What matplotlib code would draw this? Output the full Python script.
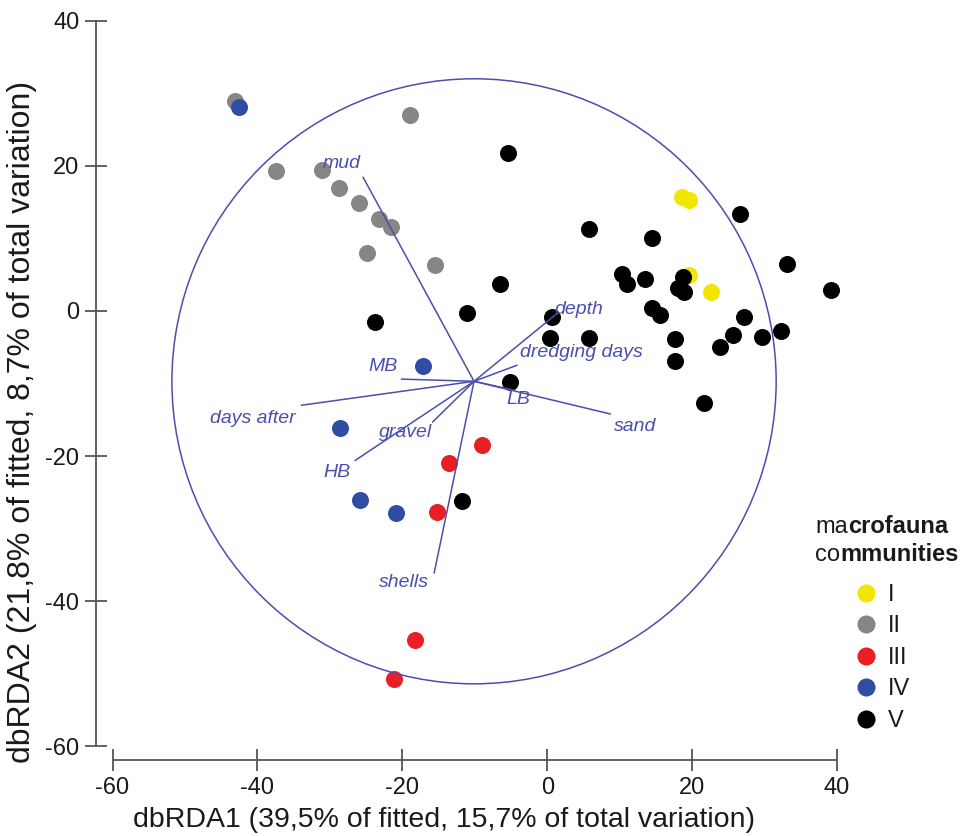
import matplotlib
matplotlib.use("Agg")
import matplotlib.pyplot as plt
from matplotlib.lines import Line2D
from matplotlib.patches import Circle

plt.rcParams['font.family'] = ['Liberation Sans', 'DejaVu Sans']
plt.rcParams['axes.unicode_minus'] = False

# sample scores (dbRDA1, dbRDA2) per macrofauna community
com_I_x = [18.6, 19.6, 19.6, 22.6]
com_I_y = [15.7, 15.3, 5.0, 2.6]

com_II_x = [-43.1, -37.4, -31.1, -28.8, -26.0, -23.2, -21.5, -24.9, -15.5, -18.9]
com_II_y = [29.0, 19.3, 19.4, 16.9, 14.9, 12.7, 11.6, 8.0, 6.3, 27.0]

com_III_x = [-9.0, -13.5, -15.2, -18.3, -21.1]
com_III_y = [-18.5, -21.0, -27.7, -45.3, -50.7]

com_IV_x = [-42.6, -17.1, -28.6, -25.8, -20.9]
com_IV_y = [28.1, -7.6, -16.2, -26.1, -27.9]

com_V_x = [-5.4, 26.6, 5.8, 14.5, 33.1, 39.1, 10.3, 11.0, 13.5, 18.8,
           18.1, 18.9, 14.5, 15.6, 5.7, 17.6, 17.6, 27.2, 25.6, 23.8,
           29.6, 32.2, 21.6, -6.5, -23.8, -11.1, 0.6, 0.4, -5.2, -11.8]
com_V_y = [21.8, 13.4, 11.3, 10.0, 6.5, 2.9, 5.1, 3.7, 4.4, 4.7,
           3.2, 2.6, 0.4, -0.6, -3.7, -3.9, -6.9, -0.8, -3.3, -5.0,
           -3.6, -2.8, -12.7, 3.7, -1.5, -0.3, -0.9, -3.7, -9.8, -26.2]

# environmental vectors (end points) and label positions
origin = (-10.1, -9.7)
circle_r = 41.7
vec_names = ['mud', 'depth', 'dredging days', 'MB', 'LB', 'sand',
             'days after', 'gravel', 'HB', 'shells']
vec_x = [-25.4, 1.3, -4.2, -20.1, -4.7, 8.7, -33.9, -15.8, -26.5, -15.6]
vec_y = [18.4, -0.4, -7.5, -9.4, -10.9, -14.2, -13.0, -15.3, -20.6, -36.1]
lab_x = [-28.4, 4.3, 4.7, -22.7, -4.0, 12.1, -40.6, -19.6, -29.0, -19.8]
lab_y = [20.3, 0.2, -5.7, -7.6, -12.2, -15.9, -14.8, -16.8, -22.3, -37.5]

groups = ['I', 'II', 'III', 'IV', 'V']
colors = {'I': '#f2e600', 'II': '#868686', 'III': '#ea1f25',
          'IV': '#2f4ea3', 'V': '#000000'}
vcol = '#4a4fae'
tcol = '#1a1a1a'

fig = plt.figure(figsize=(9.69, 8.36), dpi=100)
ax = fig.add_axes([0.1161, 0.1074, 0.7477, 0.8678])

ms = 150
ax.scatter(com_II_x, com_II_y, s=ms, c=colors['II'], lw=0, zorder=2, clip_on=False)
ax.scatter(com_I_x, com_I_y, s=ms, c=colors['I'], lw=0, zorder=2, clip_on=False)
ax.scatter(com_V_x, com_V_y, s=ms, c=colors['V'], lw=0, zorder=3, clip_on=False)
ax.scatter(com_III_x, com_III_y, s=ms, c=colors['III'], lw=0, zorder=3, clip_on=False)
ax.scatter(com_IV_x, com_IV_y, s=ms, c=colors['IV'], lw=0, zorder=3, clip_on=False)

ax.add_patch(Circle(origin, circle_r, fill=False, ec=vcol, lw=1.1, zorder=4))
for name, vx, vy, lx, ly in zip(vec_names, vec_x, vec_y, lab_x, lab_y):
    ax.plot([origin[0], vx], [origin[1], vy], color=vcol, lw=1.1, zorder=4)
    ax.text(lx, ly, name, color=vcol, style='italic', fontsize=14,
            ha='center', va='center', zorder=5)

ax.set_xlim(-60, 40)
ax.set_ylim(-60, 40)
ax.set_xticks([-60, -40, -20, 0, 20, 40])
ax.set_yticks([-60, -40, -20, 0, 20, 40])

for s in ['top', 'right']:
    ax.spines[s].set_visible(False)
ax.spines['left'].set_position(('outward', 11.9))
ax.spines['bottom'].set_position(('outward', 9.9))
for s in ['left', 'bottom']:
    ax.spines[s].set_color('#555555')
    ax.spines[s].set_linewidth(1.3)
ax.tick_params(direction='inout', length=16, width=1.3, color='#555555',
               labelsize=17, labelcolor=tcol, pad=4)

fig.text(444 / 969, 1 - 820 / 836,
         'dbRDA1 (39,5% of fitted, 15,7% of total variation)',
         ha='center', va='center', fontsize=20.5, color=tcol)
fig.text(22 / 969, 1 - 422 / 836,
         'dbRDA2 (21,8% of fitted, 8,7% of total variation)',
         ha='center', va='center', rotation=90, fontsize=23, color=tcol)

# legend title, half regular / half bold like the original
t1 = fig.text(815 / 969, 1 - 527 / 836, 'ma', fontsize=17, va='center',
              color=tcol)
ax.annotate('crofauna', xy=(1, 0), xycoords=t1, va='bottom', fontsize=17,
            fontweight='bold', color=tcol, annotation_clip=False)
t2 = fig.text(815 / 969, 1 - 555 / 836, 'co', fontsize=17, va='center',
              color=tcol)
ax.annotate('mmunities', xy=(1, 0), xycoords=t2, va='bottom', fontsize=17,
            fontweight='bold', color=tcol, annotation_clip=False)

handles = [Line2D([], [], ls='', marker='o', ms=13, mfc=colors[g], mec='none')
           for g in groups]
ax.legend(handles, groups, loc='upper left', frameon=False, fontsize=17,
          bbox_to_anchor=(854 / 969, 1 - 584 / 836),
          bbox_transform=fig.transFigure, borderaxespad=0, borderpad=0,
          handlelength=1.0, handletextpad=0.45, labelspacing=0.40,
          labelcolor=tcol)

fig.savefig('out.png', dpi=100)
